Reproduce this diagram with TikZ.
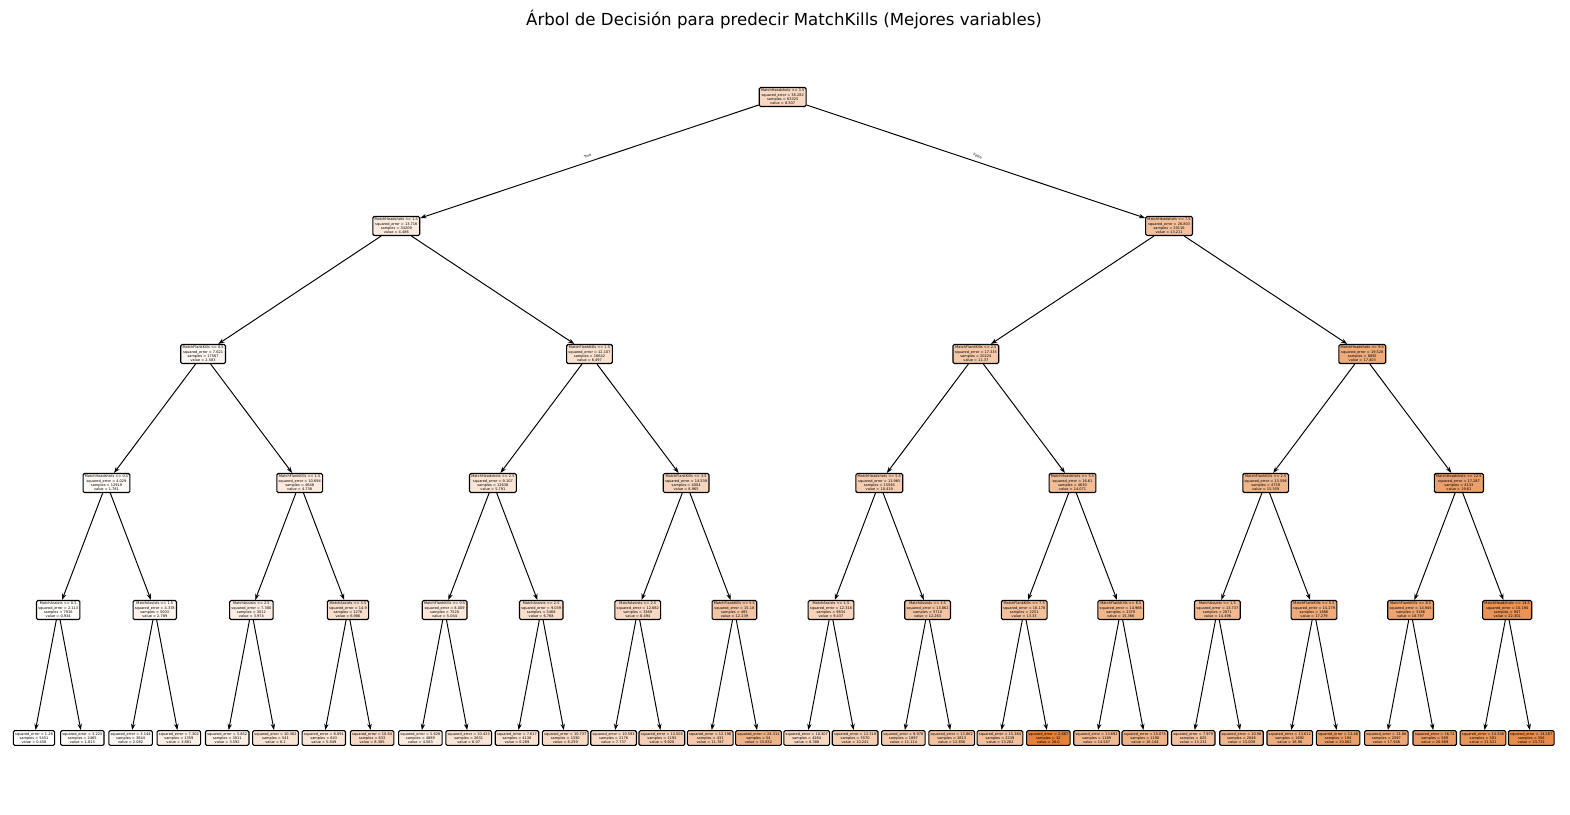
\documentclass[tikz,border=0pt]{standalone}
\usepackage{fontspec}
\setmainfont{DejaVu Sans}
\usetikzlibrary{arrows.meta}
\definecolor{treeorange}{RGB}{229,129,57}
\tikzset{
    split/.style={draw,line width=0.8pt,rounded corners=1pt,align=center,inner sep=1.3pt,
        font=\fontsize{2.55}{3.05}\selectfont},
    leaf/.style={split},
    edge/.style={-{Stealth[length=4.5pt,width=3.2pt]},line width=0.7pt},
}
\begin{document}
\begin{tikzpicture}[x=0.01in,y=-0.01in]
    \useasboundingbox (0,0) rectangle (1570,814);
    \node (title) at (784,20) {\fontsize{12}{14}\selectfont Árbol de Decisión para predecir MatchKills (Mejores variables)};

    % root and first splits
    \node[split,fill=treeorange!31!white] (n1) at (782.7,97) {MatchHeadshots <= 3.5\\squared\_error = 38.282\\samples = 63325\\value = 8.507};
    \node[split,fill=treeorange!16!white] (n2) at (396.3,226) {MatchHeadshots <= 1.5\\squared\_error = 13.716\\samples = 34209\\value = 4.486};
    \node[split,fill=treeorange!50!white] (n3) at (1169.1,226) {MatchHeadshots <= 7.5\\squared\_error = 26.803\\samples = 29116\\value = 13.211};

    % depth 2
    \node[split,fill=treeorange!8!white] (n4) at (203.1,354) {MatchFlankKills <= 0.5\\squared\_error = 7.621\\samples = 17567\\value = 2.583};
    \node[split,fill=treeorange!24!white] (n5) at (589.5,354) {MatchFlankKills <= 1.5\\squared\_error = 12.107\\samples = 16642\\value = 6.497};
    \node[split,fill=treeorange!43!white] (n6) at (975.9,354) {MatchFlankKills <= 2.5\\squared\_error = 17.335\\samples = 20224\\value = 11.37};
    \node[split,fill=treeorange!66!white] (n7) at (1362.3,354) {MatchHeadshots <= 9.5\\squared\_error = 19.528\\samples = 8892\\value = 17.403};

    % depth 3
    \node[split,fill=treeorange!5!white] (n8) at (106.5,483) {MatchHeadshots <= 0.5\\squared\_error = 4.029\\samples = 12919\\value = 1.781};
    \node[split,fill=treeorange!17!white] (n9) at (299.7,483) {MatchFlankKills <= 1.5\\squared\_error = 10.694\\samples = 4648\\value = 4.738};
    \node[split,fill=treeorange!21!white] (n10) at (492.9,483) {MatchHeadshots <= 2.5\\squared\_error = 9.107\\samples = 12638\\value = 5.791};
    \node[split,fill=treeorange!33!white] (n11) at (686.1,483) {MatchFlankKills <= 3.5\\squared\_error = 14.539\\samples = 4004\\value = 8.965};
    \node[split,fill=treeorange!39!white] (n12) at (879.3,483) {MatchHeadshots <= 5.5\\squared\_error = 13.965\\samples = 15594\\value = 10.419};
    \node[split,fill=treeorange!53!white] (n13) at (1072.5,483) {MatchHeadshots <= 5.5\\squared\_error = 16.61\\samples = 4630\\value = 14.071};
    \node[split,fill=treeorange!59!white] (n14) at (1265.7,483) {MatchFlankKills <= 2.5\\squared\_error = 13.596\\samples = 4759\\value = 15.559};
    \node[split,fill=treeorange!75!white] (n15) at (1458.9,483) {MatchHeadshots <= 12.5\\squared\_error = 17.287\\samples = 4133\\value = 19.61};

    % depth 4
    \node[split,fill=treeorange!2!white] (n16) at (58.2,610) {MatchAssists <= 0.5\\squared\_error = 2.113\\samples = 7916\\value = 0.934};
    \node[split,fill=treeorange!9!white] (n17) at (154.8,610) {MatchAssists <= 1.5\\squared\_error = 4.378\\samples = 5003\\value = 2.789};
    \node[split,fill=treeorange!14!white] (n18) at (251.4,610) {MatchAssists <= 2.5\\squared\_error = 7.380\\samples = 3012\\value = 3.974};
    \node[split,fill=treeorange!26!white] (n19) at (348,610) {MatchAssists <= 3.5\\squared\_error = 14.9\\samples = 1276\\value = 6.986};
    \node[split,fill=treeorange!18!white] (n20) at (444.6,610) {MatchFlankKills <= 0.5\\squared\_error = 8.009\\samples = 7520\\value = 5.044};
    \node[split,fill=treeorange!25!white] (n21) at (541.2,610) {MatchAssists <= 2.5\\squared\_error = 9.039\\samples = 5468\\value = 6.768};
    \node[split,fill=treeorange!31!white] (n22) at (637.8,610) {MatchAssists <= 2.5\\squared\_error = 12.682\\samples = 3369\\value = 8.494};
    \node[split,fill=treeorange!46!white] (n23) at (734.4,610) {MatchFlankKills <= 5.5\\squared\_error = 15.18\\samples = 485\\value = 12.239};
    \node[split,fill=treeorange!35!white] (n24) at (831,610) {MatchAssists <= 1.5\\squared\_error = 12.316\\samples = 9834\\value = 9.437};
    \node[split,fill=treeorange!46!white] (n25) at (927.6,610) {MatchAssists <= 3.5\\squared\_error = 13.862\\samples = 5710\\value = 12.263};
    \node[split,fill=treeorange!50!white] (n26) at (1024.2,610) {MatchFlankKills <= 7.5\\squared\_error = 16.178\\samples = 2251\\value = 13.33};
    \node[split,fill=treeorange!58!white] (n27) at (1120.8,610) {MatchFlankKills <= 6.5\\squared\_error = 14.966\\samples = 2379\\value = 15.366};
    \node[split,fill=treeorange!55!white] (n28) at (1217.4,610) {MatchAssists <= 1.5\\squared\_error = 13.737\\samples = 2871\\value = 14.496};
    \node[split,fill=treeorange!66!white] (n29) at (1314,610) {MatchFlankKills <= 5.5\\squared\_error = 14.279\\samples = 1886\\value = 17.279};
    \node[split,fill=treeorange!72!white] (n30) at (1410.6,610) {MatchFlankKills <= 8.5\\squared\_error = 14.945\\samples = 3186\\value = 18.797};
    \node[split,fill=treeorange!86!white] (n31) at (1507.2,610) {MatchHeadshots <= 14.5\\squared\_error = 15.194\\samples = 947\\value = 22.301};

    % leaves
    \node[leaf,fill=white] (n32) at (34,738) {squared\_error = 1.28\\samples = 5451\\value = 0.458};
    \node[leaf,fill=treeorange!5!white] (n33) at (82.3,738) {squared\_error = 3.223\\samples = 2465\\value = 1.813};
    \node[leaf,fill=treeorange!6!white] (n34) at (130.6,738) {squared\_error = 3.144\\samples = 3644\\value = 2.082};
    \node[leaf,fill=treeorange!13!white] (n35) at (178.9,738) {squared\_error = 7.302\\samples = 1359\\value = 3.881};
    \node[leaf,fill=treeorange!12!white] (n36) at (227.2,738) {squared\_error = 5.852\\samples = 3011\\value = 3.592};
    \node[leaf,fill=treeorange!22!white] (n37) at (275.5,738) {squared\_error = 10.362\\samples = 541\\value = 6.1};
    \node[leaf,fill=treeorange!21!white] (n38) at (323.8,738) {squared\_error = 8.891\\samples = 643\\value = 5.849};
    \node[leaf,fill=treeorange!31!white] (n39) at (372.1,738) {squared\_error = 10.64\\samples = 633\\value = 8.385};
    \node[leaf,fill=treeorange!16!white] (n40) at (420.4,738) {squared\_error = 5.626\\samples = 4889\\value = 4.583};
    \node[leaf,fill=treeorange!22!white] (n41) at (468.7,738) {squared\_error = 10.423\\samples = 2631\\value = 6.07};
    \node[leaf,fill=treeorange!23!white] (n42) at (517,738) {squared\_error = 7.617\\samples = 4138\\value = 6.289};
    \node[leaf,fill=treeorange!30!white] (n43) at (565.3,738) {squared\_error = 10.737\\samples = 1330\\value = 8.259};
    \node[leaf,fill=treeorange!28!white] (n44) at (613.6,738) {squared\_error = 10.593\\samples = 2176\\value = 7.737};
    \node[leaf,fill=treeorange!37!white] (n45) at (661.9,738) {squared\_error = 13.503\\samples = 1193\\value = 9.920};
    \node[leaf,fill=treeorange!44!white] (n46) at (710.2,738) {squared\_error = 12.196\\samples = 431\\value = 11.787};
    \node[leaf,fill=treeorange!60!white] (n47) at (758.5,738) {squared\_error = 24.311\\samples = 54\\value = 15.852};
    \node[leaf,fill=treeorange!31!white] (n48) at (806.8,738) {squared\_error = 10.307\\samples = 4264\\value = 8.388};
    \node[leaf,fill=treeorange!38!white] (n49) at (855.1,738) {squared\_error = 12.319\\samples = 5570\\value = 10.241};
    \node[leaf,fill=treeorange!42!white] (n50) at (903.4,738) {squared\_error = 9.978\\samples = 1897\\value = 11.114};
    \node[leaf,fill=treeorange!48!white] (n51) at (951.7,738) {squared\_error = 13.862\\samples = 3813\\value = 12.856};
    \node[leaf,fill=treeorange!50!white] (n52) at (1000,738) {squared\_error = 15.384\\samples = 2239\\value = 13.262};
    \node[leaf,fill=treeorange] (n53) at (1048.3,738) {squared\_error = 2.667\\samples = 12\\value = 26.0};
    \node[leaf,fill=treeorange!55!white] (n54) at (1096.6,738) {squared\_error = 13.692\\samples = 1189\\value = 14.587};
    \node[leaf,fill=treeorange!61!white] (n55) at (1144.9,738) {squared\_error = 15.075\\samples = 1190\\value = 16.144};
    \node[leaf,fill=treeorange!50!white] (n56) at (1193.2,738) {squared\_error = 7.979\\samples = 825\\value = 13.231};
    \node[leaf,fill=treeorange!57!white] (n57) at (1241.5,738) {squared\_error = 10.98\\samples = 2046\\value = 15.009};
    \node[leaf,fill=treeorange!65!white] (n58) at (1289.8,738) {squared\_error = 13.612\\samples = 1692\\value = 16.96};
    \node[leaf,fill=treeorange!77!white] (n59) at (1338.1,738) {squared\_error = 13.46\\samples = 194\\value = 20.062};
    \node[leaf,fill=treeorange!69!white] (n60) at (1386.4,738) {squared\_error = 13.88\\samples = 2597\\value = 17.946};
    \node[leaf,fill=treeorange!79!white] (n61) at (1434.7,738) {squared\_error = 16.72\\samples = 589\\value = 20.689};
    \node[leaf,fill=treeorange!83!white] (n62) at (1483,738) {squared\_error = 14.336\\samples = 591\\value = 21.521};
    \node[leaf,fill=treeorange!91!white] (n63) at (1531.3,738) {squared\_error = 14.167\\samples = 356\\value = 23.731};

    % connectors
    \draw[edge] (n1) -- node[sloped,above=-0.5pt,font=\fontsize{2.55}{3.05}\selectfont] {True} (n2);
    \draw[edge] (n1) -- node[sloped,above=-0.5pt,font=\fontsize{2.55}{3.05}\selectfont] {False} (n3);
    \foreach \k in {2,...,31} {
        \pgfmathtruncatemacro{\lft}{2*\k}
        \pgfmathtruncatemacro{\rgt}{2*\k+1}
        \draw[edge] (n\k) -- (n\lft);
        \draw[edge] (n\k) -- (n\rgt);
    }
\end{tikzpicture}
\end{document}
